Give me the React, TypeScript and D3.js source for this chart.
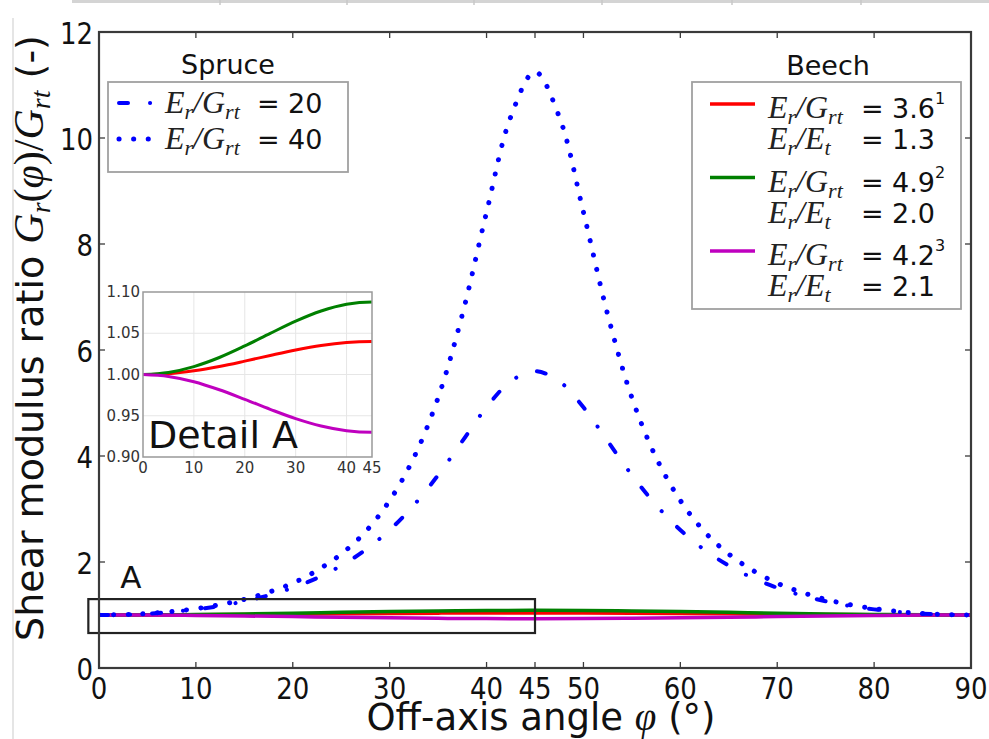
import React from "react";
import * as d3 from "d3";

// Off-axis angle samples (degrees)
const ANGLES_FINE = [
  0, 2.5, 5, 7.5, 10, 12.5, 15, 17.5, 20, 22.5, 25, 27.5, 30, 32.5, 35, 37.5, 40, 42.5,
  45, 47.5, 50, 52.5, 55, 57.5, 60, 62.5, 65, 67.5, 70, 72.5, 75, 77.5, 80, 82.5, 85, 87.5, 90,
];
const ANGLES_COARSE = [0, 5, 10, 15, 20, 25, 30, 35, 40, 45, 50, 55, 60, 65, 70, 75, 80, 85, 90];

// Spruce, E_r/G_rt = 20 (dash-dot)
const SPRUCE_20 = [
  1.0, 1.006, 1.025, 1.058, 1.106, 1.172, 1.259, 1.37, 1.514, 1.697, 1.931, 2.228, 2.604, 3.074,
  3.64, 4.28, 4.92, 5.41, 5.6, 5.41, 4.92, 4.28, 3.64, 3.074, 2.604, 2.228, 1.931, 1.697, 1.514,
  1.37, 1.259, 1.172, 1.106, 1.058, 1.025, 1.006, 1.0,
];
// Spruce, E_r/G_rt = 40 (dotted)
const SPRUCE_40 = [
  1.0, 1.007, 1.028, 1.065, 1.12, 1.195, 1.295, 1.43, 1.6, 1.84, 2.15, 2.57, 3.16, 3.97, 5.1,
  6.67, 8.6, 10.4, 11.25, 10.4, 8.6, 6.67, 5.1, 3.97, 3.16, 2.57, 2.15, 1.84, 1.6, 1.43, 1.295,
  1.195, 1.12, 1.065, 1.028, 1.007, 1.0,
];
// Beech curves
const BEECH_RED = [
  1.0, 1.001, 1.0045, 1.0097, 1.0162, 1.0231, 1.0297, 1.0352, 1.0388, 1.04, 1.0388, 1.0352,
  1.0297, 1.0231, 1.0162, 1.0097, 1.0045, 1.001, 1.0,
];
const BEECH_GREEN = [
  1.0, 1.0025, 1.0096, 1.0206, 1.0346, 1.0498, 1.0647, 1.077, 1.0852, 1.088, 1.0852, 1.077,
  1.0647, 1.0498, 1.0346, 1.0206, 1.0096, 1.0025, 1.0,
];
const BEECH_MAGENTA = [
  1.0, 0.9977, 0.9913, 0.9815, 0.9699, 0.9578, 0.9465, 0.9376, 0.9319, 0.93, 0.9319, 0.9376,
  0.9465, 0.9578, 0.9699, 0.9815, 0.9913, 0.9977, 1.0,
];

const X_TICKS = [0, 10, 20, 30, 40, 45, 50, 60, 70, 80, 90];
const Y_TICKS = [0, 2, 4, 6, 8, 10, 12];
const INSET_X_TICKS = [0, 10, 20, 30, 40, 45];
const INSET_Y_TICKS = [0.9, 0.95, 1.0, 1.05, 1.1];
const INSET_X_GRID = [10, 20, 30, 40];
const INSET_Y_GRID = [0.95, 1.0, 1.05];

const BEECH_LEGEND = [
  { color: "#ff0000", grt: "3.6", ert: "1.3", note: "1" },
  { color: "#008000", grt: "4.9", ert: "2.0", note: "2" },
  { color: "#bf00bf", grt: "4.2", ert: "2.1", note: "3" },
];
const SPRUCE_LEGEND = [
  { dash: "9 22 0.1 22", width: 4, value: "20" },
  { dash: "0.1 14.5", width: 5, value: "40" },
];

const SANS = "'DejaVu Sans', sans-serif";
const MATH = "'Liberation Serif', serif";

const BLUE = "#0000ff";

function zip(xs: number[], ys: number[]): [number, number][] {
  return xs.map((x, i) => [x, ys[i]]);
}

// Tick labels use a narrow, tall face
function TickLabel({ x, y, anchor, children }: { x: number; y: number; anchor: string; children: React.ReactNode }) {
  return (
    <text
      transform={`translate(${x},${y}) scale(0.84,1)`}
      textAnchor={anchor}
      fontSize={31}
      fill="#111"
    >
      {children}
    </text>
  );
}

function RatioLabel({ x, y, den }: { x: number; y: number; den: "G" | "E" }) {
  return (
    <text x={x} y={y} fontSize={32} fill="#222" fontFamily={MATH} fontStyle="italic">
      E<tspan fontSize={22} dy={6}>r</tspan>
      <tspan dy={-6}>/{den}</tspan>
      <tspan fontSize={22} dy={6}>{den === "G" ? "rt" : "t"}</tspan>
    </text>
  );
}

export default function App() {
  const x = d3.scaleLinear().domain([0, 90]).range([99, 971]);
  const y = d3.scaleLinear().domain([0, 12]).range([668, 32]);

  const xi = d3.scaleLinear().domain([0, 45]).range([143, 372]);
  const yi = d3.scaleLinear().domain([0.9, 1.1]).range([457, 292]);

  const mainLine = d3
    .line<[number, number]>()
    .x((d) => x(d[0]))
    .y((d) => y(d[1]))
    .curve(d3.curveCatmullRom.alpha(0.5));
  const insetLine = d3
    .line<[number, number]>()
    .x((d) => xi(d[0]))
    .y((d) => yi(d[1]))
    .curve(d3.curveCatmullRom.alpha(0.5));

  const beech = [
    { vals: BEECH_RED, color: "#ff0000" },
    { vals: BEECH_GREEN, color: "#008000" },
    { vals: BEECH_MAGENTA, color: "#bf00bf" },
  ];

  const [x0, x1] = x.range();
  const [y0, y1] = y.range();
  const [ix0, ix1] = xi.range();
  const [iy0, iy1] = yi.range();

  return (
    <svg
      width={989}
      height={739}
      style={{ position: "absolute", left: 0, top: 0, background: "#fff" }}
      fontFamily={SANS}
    >
      <rect x={0} y={0} width={989} height={739} fill="#fff" />
      {/* neighbouring panel edges */}
      <line x1={72} y1={1.5} x2={989} y2={1.5} stroke="#d4d4d4" strokeWidth={3} />
      {[220, 347, 474, 602, 732, 861].map((t) => (
        <line key={t} x1={t} y1={0} x2={t} y2={5} stroke="#c8c8c8" strokeWidth={1.5} />
      ))}
      <line x1={13} y1={18} x2={13} y2={739} stroke="#dcdcdc" strokeWidth={1.5} />

      <defs>
        <clipPath id="plotClip">
          <rect x={x0} y={y1} width={x1 - x0} height={y0 - y1} />
        </clipPath>
        <clipPath id="insetClip">
          <rect x={ix0} y={iy1} width={ix1 - ix0} height={iy0 - iy1} />
        </clipPath>
      </defs>

      <g clipPath="url(#plotClip)">
        {/* beech curves */}
        {beech.map((b) => (
          <path
            key={b.color}
            d={mainLine(zip(ANGLES_COARSE, b.vals)) || ""}
            fill="none"
            stroke={b.color}
            strokeWidth={3.5}
          />
        ))}
        {/* spruce curves */}
        <path
          d={mainLine(zip(ANGLES_FINE, SPRUCE_20)) || ""}
          fill="none"
          stroke={BLUE}
          strokeWidth={4}
          strokeDasharray="9 22 0.1 22"
          strokeLinecap="round"
        />
        <path
          d={mainLine(zip(ANGLES_FINE, SPRUCE_40)) || ""}
          fill="none"
          stroke={BLUE}
          strokeWidth={5}
          strokeDasharray="0.1 14.5"
          strokeLinecap="round"
        />
      </g>

      {/* detail box A */}
      <rect
        x={x(-1.1)}
        y={y(1.3)}
        width={x(45) - x(-1.1)}
        height={y(0.66) - y(1.3)}
        fill="none"
        stroke="#222"
        strokeWidth={2.2}
      />
      <text x={x(2.2)} y={y(1.51)} fontSize={31} fill="#111">
        A
      </text>

      {/* main frame and ticks */}
      <rect x={x0} y={y1} width={x1 - x0} height={y0 - y1} fill="none" stroke="#3a3a3a" strokeWidth={2.2} />
      {X_TICKS.map((t) => (
        <g key={"xt" + t}>
          <line x1={x(t)} x2={x(t)} y1={y0} y2={y0 - 6} stroke="#3a3a3a" strokeWidth={1.3} />
          <line x1={x(t)} x2={x(t)} y1={y1} y2={y1 + 6} stroke="#3a3a3a" strokeWidth={1.3} />
          <TickLabel x={x(t)} y={y0 + 31} anchor="middle">
            {t}
          </TickLabel>
        </g>
      ))}
      {Y_TICKS.map((t) => (
        <g key={"yt" + t}>
          <line x1={x0} x2={x0 + 6} y1={y(t)} y2={y(t)} stroke="#3a3a3a" strokeWidth={1.3} />
          <line x1={x1} x2={x1 - 6} y1={y(t)} y2={y(t)} stroke="#3a3a3a" strokeWidth={1.3} />
          <TickLabel x={x0 - 6} y={y(t) + 11.5} anchor="end">
            {t}
          </TickLabel>
        </g>
      ))}

      {/* axis titles */}
      <text x={541} y={730} textAnchor="middle" fontSize={37} fill="#111">
        Off-axis angle{" "}
        <tspan fontFamily={MATH} fontStyle="italic" fontSize={39}>
          φ
        </tspan>{" "}
        (°)
      </text>
      <text transform="translate(43,338) rotate(-90)" textAnchor="middle" fontSize={38} fill="#111">
        Shear modulus ratio{" "}
        <tspan fontFamily={MATH} fontStyle="italic" fontSize={42}>G</tspan>
        <tspan fontFamily={MATH} fontStyle="italic" fontSize={28} dy={7}>r</tspan>
        <tspan fontFamily={MATH} fontSize={42} dy={-7}>(</tspan>
        <tspan fontFamily={MATH} fontStyle="italic" fontSize={42}>φ</tspan>
        <tspan fontFamily={MATH} fontSize={42}>)/</tspan>
        <tspan fontFamily={MATH} fontStyle="italic" fontSize={42}>G</tspan>
        <tspan fontFamily={MATH} fontStyle="italic" fontSize={28} dy={7}>rt</tspan>
        <tspan dy={-7}> (-)</tspan>
      </text>

      {/* inset: detail A */}
      <g>
        <rect x={ix0} y={iy1} width={ix1 - ix0} height={iy0 - iy1} fill="#fff" />
        {INSET_X_GRID.map((t) => (
          <line key={"ixg" + t} x1={xi(t)} x2={xi(t)} y1={iy0} y2={iy1} stroke="#e6e6e6" strokeWidth={1} />
        ))}
        {INSET_Y_GRID.map((t) => (
          <line key={"iyg" + t} y1={yi(t)} y2={yi(t)} x1={ix0} x2={ix1} stroke="#e6e6e6" strokeWidth={1} />
        ))}
        <g clipPath="url(#insetClip)">
          {beech.map((b) => (
            <path
              key={"i" + b.color}
              d={insetLine(zip(ANGLES_COARSE, b.vals)) || ""}
              fill="none"
              stroke={b.color}
              strokeWidth={3}
            />
          ))}
        </g>
        <rect x={ix0} y={iy1} width={ix1 - ix0} height={iy0 - iy1} fill="none" stroke="#999" strokeWidth={1.5} />
        {INSET_X_TICKS.map((t) => (
          <text key={"ixt" + t} x={xi(t)} y={iy0 + 16} textAnchor="middle" fontSize={15} fill="#333">
            {t}
          </text>
        ))}
        {INSET_Y_TICKS.map((t) => (
          <text key={"iyt" + t} x={ix0 - 3} y={yi(t) + 5} textAnchor="end" fontSize={15} fill="#333">
            {t.toFixed(2)}
          </text>
        ))}
        <text x={148} y={448} fontSize={38} fill="#111">
          Detail A
        </text>
      </g>

      {/* spruce legend */}
      <text x={228} y={74} textAnchor="middle" fontSize={27} fill="#111">
        Spruce
      </text>
      <rect x={108} y={82} width={240} height={90} fill="#fff" stroke="#a0a0a0" strokeWidth={1.8} />
      {SPRUCE_LEGEND.map((e, i) => {
        const cy = 103 + i * 36;
        return (
          <g key={"sl" + i}>
            <line x1={119} x2={152} y1={cy} y2={cy} stroke={BLUE} strokeWidth={e.width} strokeDasharray={e.dash} strokeLinecap="round" />
            <RatioLabel x={165} y={cy + 10} den="G" />
            <text x={257} y={cy + 10} fontSize={27} fill="#111">
              =
            </text>
            <text x={288} y={cy + 10} fontSize={27} fill="#111">
              {e.value}
            </text>
          </g>
        );
      })}

      {/* beech legend */}
      <text x={828} y={75} textAnchor="middle" fontSize={27} fill="#111">
        Beech
      </text>
      <rect x={692} y={82} width={269} height={227} fill="#fff" stroke="#a0a0a0" strokeWidth={1.8} />
      {BEECH_LEGEND.map((e, i) => {
        const top = 104 + i * 73.5;
        return (
          <g key={"bl" + i}>
            <line x1={710} x2={755} y1={top} y2={top} stroke={e.color} strokeWidth={3.5} />
            <RatioLabel x={768} y={top + 14} den="G" />
            <text x={861} y={top + 14} fontSize={27} fill="#111">
              =
            </text>
            <text x={892} y={top + 14} fontSize={27} fill="#111">
              {e.grt}
              <tspan fontSize={16} dy={-14}>
                {e.note}
              </tspan>
            </text>
            <RatioLabel x={768} y={top + 45} den="E" />
            <text x={861} y={top + 45} fontSize={27} fill="#111">
              =
            </text>
            <text x={892} y={top + 45} fontSize={27} fill="#111">
              {e.ert}
            </text>
          </g>
        );
      })}
    </svg>
  );
}
